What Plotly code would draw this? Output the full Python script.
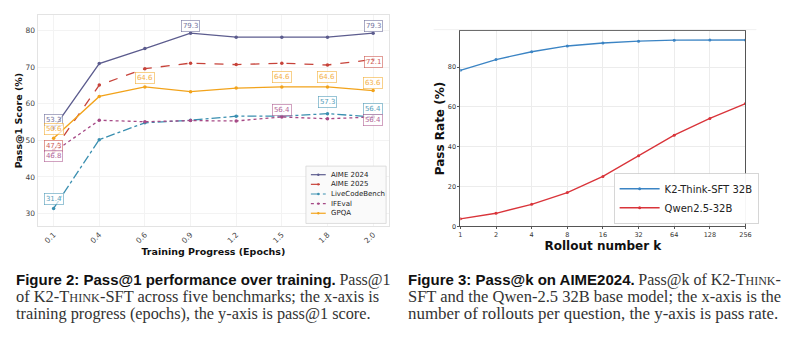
import plotly.graph_objects as go
import math

# ---------------- data: Figure 2 ----------------
epochs = ["0.1", "0.4", "0.6", "0.9", "1.2", "1.5", "1.8", "2.0"]
aime24 = [53.3, 71.0, 75.1, 79.3, 78.2, 78.2, 78.2, 79.3]
aime25 = [47.3, 65.1, 69.6, 71.1, 70.7, 71.1, 70.6, 72.1]
lcb = [31.4, 50.2, 54.8, 55.5, 56.6, 56.6, 57.3, 56.4]
ifeval = [46.8, 55.5, 55.1, 55.4, 55.3, 56.4, 55.9, 56.4]
gpqa = [50.6, 62.0, 64.6, 63.3, 64.3, 64.6, 64.6, 63.6]
series_names = ["AIME 2024", "AIME 2025", "LiveCodeBench", "IFEval", "GPQA"]

# labelled points: (series index, point index)
labelled = [(0, 0), (0, 3), (0, 7), (1, 0), (1, 7), (2, 0), (2, 6), (2, 7),
            (3, 0), (3, 5), (3, 7), (4, 0), (4, 2), (4, 5), (4, 6), (4, 7)]

# ---------------- data: Figure 3 ----------------
k_vals = [1, 2, 4, 8, 16, 32, 64, 128, 256]
k2_think = [78.4, 83.8, 87.7, 90.6, 92.1, 93.0, 93.5, 93.6, 93.6]
qwen = [3.8, 6.6, 11.1, 17.0, 25.1, 35.5, 45.8, 54.2, 61.7]

# ---------------- styles ----------------
colors = ["#5c5c8e", "#c7433a", "#3a8fb0", "#a64a86", "#f2a31b"]
dashes = ["solid", "dash", "dashdot", "dot", "solid"]
label_shift = {(0, 0): 8, (0, 3): 7, (0, 7): 7, (1, 0): 4, (1, 7): -3, (2, 0): 9,
               (2, 6): 12, (2, 7): 8, (3, 0): -4, (3, 5): 7, (3, 7): -3, (4, 0): 9,
               (4, 2): 9, (4, 5): 10, (4, 6): 10, (4, 7): 8}

all_series = [aime24, aime25, lcb, ifeval, gpqa]

fig = go.Figure()

for name, vals, c, d in zip(series_names, all_series, colors, dashes):
    fig.add_trace(go.Scatter(
        x=epochs, y=vals, name=name, mode="lines+markers",
        line=dict(color=c, width=1.3, dash=d),
        marker=dict(color=c, size=3.5),
        xaxis="x", yaxis="y", showlegend=False))

annotations = []
shapes = []
for (si, pi) in labelled:
    v = all_series[si][pi]
    annotations.append(dict(
        x=pi, y=v, xref="x", yref="y", text=f"{v:.1f}",
        showarrow=False, yshift=label_shift[(si, pi)],
        font=dict(family="DejaVu Sans", size=7, color=colors[si]),
        bgcolor="rgba(255,255,255,0.85)", bordercolor=colors[si], borderwidth=0.6,
        borderpad=1.3, opacity=0.85))

# compact legend box for Figure 2 (built from the series lists)
lg_x0, lg_x1, lg_y0, lg_y1 = 307, 388, 168, 226
shapes.append(dict(type="rect", xref="paper", yref="paper",
                   x0=lg_x0 / 800, x1=lg_x1 / 800, y0=1 - lg_y1 / 353, y1=1 - lg_y0 / 353,
                   fillcolor="rgba(250,250,250,0.95)", line=dict(color="#d6d6d6", width=0.8),
                   layer="above"))
for i, (name, c, d) in enumerate(zip(series_names, colors, dashes)):
    yy = 1 - (176.7 + 9.75 * i) / 353
    shapes.append(dict(type="line", xref="paper", yref="paper",
                       x0=312 / 800, x1=327 / 800, y0=yy, y1=yy,
                       line=dict(color=c, width=1.2, dash=d), layer="above"))
    shapes.append(dict(type="circle", xref="paper", yref="paper",
                       x0=318.3 / 800, x1=320.7 / 800, y0=yy - 1.2 / 353, y1=yy + 1.2 / 353,
                       fillcolor=c, line=dict(width=0), layer="above"))
    annotations.append(dict(x=330.5 / 800, y=yy, xref="paper", yref="paper",
                            xanchor="left", yanchor="middle", text=name, showarrow=False,
                            font=dict(family="DejaVu Sans", size=7, color="#222")))

fig.add_trace(go.Scatter(
    x=k_vals, y=k2_think, name="K2-Think-SFT 32B", mode="lines+markers",
    line=dict(color="#3b84c4", width=1.3), marker=dict(color="#3b84c4", size=3),
    xaxis="x2", yaxis="y2"))
fig.add_trace(go.Scatter(
    x=k_vals, y=qwen, name="Qwen2.5-32B", mode="lines+markers",
    line=dict(color="#d9343a", width=1.3), marker=dict(color="#d9343a", size=3),
    xaxis="x2", yaxis="y2"))

# ---------------- captions ----------------
serif = "Liberation Serif"


def ser(txt, size):
    return f"<span style='font-family:{serif};font-size:{size}px;color:#333'>{txt}</span>"


def bold(txt, size):
    return f"<span style='font-size:{size}px'><b>{txt}</b></span>"


def smallcaps(size):
    return f"K2-T<span style='font-size:{size * 0.75:.1f}px'>HINK</span>"


cap_left = "<br>".join([
    bold("Figure 2: Pass@1 performance over training.", 15) + " " + ser("Pass@1", 16),
    ser(f"of {smallcaps(16.4)}-SFT across five benchmarks; the x-axis is", 16.4),
    ser("training progress (epochs), the y-axis is pass@1 score.", 16.3),
])
cap_right = "<br>".join([
    bold("Figure 3: Pass@k on AIME2024.", 15) + " " + ser(f"Pass@k of {smallcaps(16)}-", 16),
    ser("SFT and the Qwen-2.5 32B base model; the x-axis is the", 16.5),
    ser("number of rollouts per question, the y-axis is pass rate.", 16.9),
])
for x0, txt in ((12, cap_left), (408, cap_right)):
    annotations.append(dict(
        x=x0 / 800, y=1 - 300 / 353, xref="paper", yref="paper",
        xanchor="left", yanchor="middle", align="left", text=txt, showarrow=False,
        font=dict(family="Liberation Sans", size=13.1, color="#111")))

shapes.append(dict(type="line", xref="paper", yref="paper", x0=436 / 800, x1=762 / 800,
                   y0=1 - 30 / 353, y1=1 - 30 / 353, line=dict(color="#f0f0f0", width=1)))

fig.update_layout(
    width=800, height=353, margin=dict(l=0, r=0, t=0, b=0),
    paper_bgcolor="white", plot_bgcolor="white",
    font=dict(family="DejaVu Sans", color="#333"),
    xaxis=dict(domain=[36 / 800, 391 / 800], anchor="y", type="category",
               range=[-0.35, 7.35], tickangle=-45, tickfont=dict(size=7.5, color="#444"),
               showgrid=True, gridcolor="#f3f3f3", showline=True, linecolor="#e3e3e3",
               mirror=True, ticks="", zeroline=False,
               title=dict(text="<b>Training Progress (Epochs)</b>", font=dict(size=9.5, color="#111"),
                          standoff=4)),
    yaxis=dict(domain=[1 - 229 / 353, 1 - 15 / 353], anchor="x",
               range=[26.5, 84.3], tickvals=[30, 40, 50, 60, 70, 80],
               tickfont=dict(size=7.5, color="#444"),
               showgrid=True, gridcolor="#f3f3f3", showline=True, linecolor="#e3e3e3",
               mirror=True, ticks="", zeroline=False,
               title=dict(text="<b>Pass@1 Score (%)</b>", font=dict(size=9.5, color="#111"),
                          standoff=1)),
    xaxis2=dict(domain=[463 / 800, 751 / 800], anchor="y2", type="log",
                range=[0, math.log10(256)], tickvals=k_vals, ticktext=[str(k) for k in k_vals],
                tickfont=dict(size=6.5, color="#333"),
                showgrid=True, gridcolor="#ececec", showline=True, linecolor="#555",
                mirror=True, ticks="outside", ticklen=2, tickcolor="#555", zeroline=False,
                title=dict(text="<b>Rollout number k</b>", font=dict(size=12, color="#111"),
                           standoff=3)),
    yaxis2=dict(domain=[1 - 229 / 353, 1 - 31 / 353], anchor="x2",
                range=[0, 98.3], tickvals=[0, 20, 40, 60, 80],
                tickfont=dict(size=6.5, color="#333"),
                showgrid=True, gridcolor="#ececec", showline=True, linecolor="#555",
                mirror=True, ticks="outside", ticklen=2, tickcolor="#555", zeroline=False,
                title=dict(text="<b>Pass Rate (%)</b>", font=dict(size=12, color="#111"),
                           standoff=0)),
    showlegend=True,
    legend=dict(x=618 / 800, y=1 - 226 / 353, xanchor="left", yanchor="bottom",
                bgcolor="rgba(255,255,255,0.95)", bordercolor="#cccccc", borderwidth=0.8,
                font=dict(size=10, color="#222"), tracegroupgap=0, itemwidth=40),
    annotations=annotations,
    shapes=shapes,
)

fig.write_html("out.html")
